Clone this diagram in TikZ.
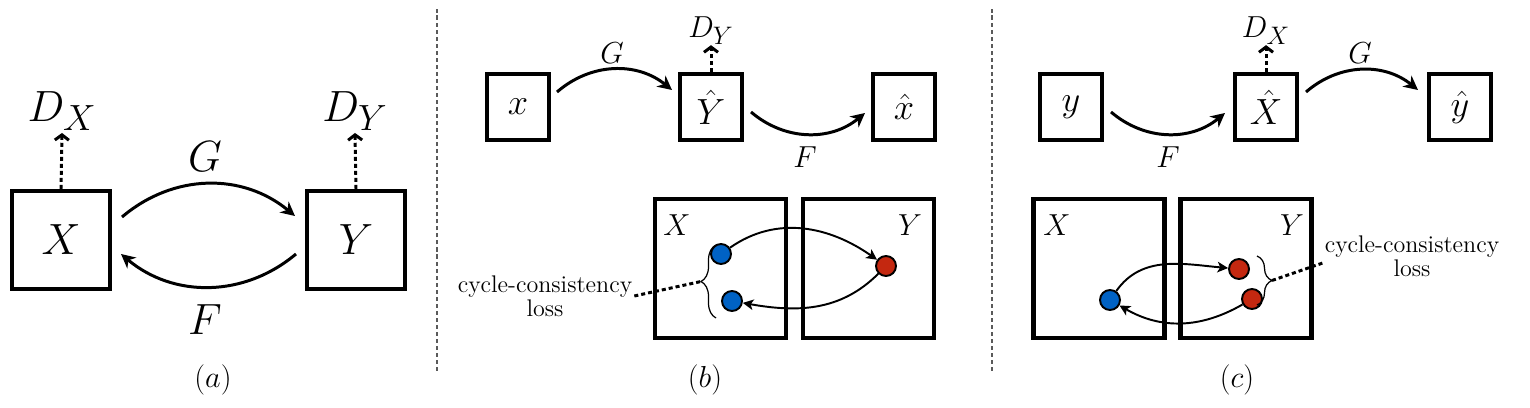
\documentclass[tikz,border=0pt]{standalone}
\usepackage{amsmath}
\usepackage{tikz}
\usetikzlibrary{arrows,arrows.meta,positioning,decorations.pathreplacing}
\definecolor{ptblue}{RGB}{0,98,196}
\definecolor{ptred}{RGB}{196,40,16}
\definecolor{sepgray}{RGB}{90,90,90}
\tikzstyle{bigbox} = [draw, line width=2.3pt, minimum size=1.96cm, inner sep=0pt, font=\fontsize{34}{40}\selectfont]
\tikzstyle{smallbox} = [draw, line width=2.3pt, minimum width=1.24cm, minimum height=1.32cm, inner sep=0pt, font=\fontsize{20}{24}\selectfont]
\tikzstyle{setbox} = [draw, line width=2.3pt, minimum width=2.62cm, minimum height=2.78cm]
\tikzstyle{sample} = [circle, draw, line width=1.1pt, minimum size=0.4cm, inner sep=0pt]
\tikzstyle{maparrow} = [line width=1.7pt, -{Stealth[length=8pt,width=8pt,inset=2.5pt]}]
\tikzstyle{cyclearrow} = [line width=1.1pt, -{Stealth[length=6pt,width=6pt,inset=1.5pt]}]
\tikzstyle{discarrow} = [line width=1.7pt, dash pattern=on 2.3pt off 1.7pt, -{Straight Barb[length=3pt,width=8pt]}]
\tikzstyle{lossline} = [line width=1.7pt, dash pattern=on 2.3pt off 1.7pt]
\tikzstyle{separator} = [sepgray, line width=0.6pt, dash pattern=on 2.3pt off 1.7pt]
\tikzstyle{biglabel} = [inner sep=1pt, font=\fontsize{33}{38}\selectfont]
\tikzstyle{mainlabel} = [inner sep=1pt, font=\fontsize{18}{22}\selectfont]
\tikzstyle{losslabel} = [align=center, inner sep=1pt, font=\fontsize{13.7}{13.7}\selectfont]
\tikzstyle{caption} = [font=\fontsize{17}{20}\selectfont]
\tikzstyle{bracket} = [decorate, decoration={brace, amplitude=0.3cm}, line width=0.7pt]
\newcommand{\bigdisc}[1]{\fontsize{27}{32}\selectfont$D_{\text{\fontsize{22}{22}\selectfont$#1$}}$}
\newcommand{\smalldisc}[1]{\fontsize{17}{20}\selectfont$D_{\text{\fontsize{14}{14}\selectfont$#1$}}$}

\begin{document}
\begin{tikzpicture}
\useasboundingbox (0,0) rectangle (30.6,8.14);

% Separators
\draw[separator] (8.74,0.72) -- (8.74,7.96);
\draw[separator] (19.84,0.72) -- (19.84,7.96);

% (a) Nodes
\node[bigbox] (ax) at (1.22,3.34) {$X$};
\node[bigbox] (ay) at (7.12,3.34) {$Y$};
\node[inner sep=1pt] (adx) at (1.24,5.92) {\bigdisc{X}};
\node[inner sep=1pt] (ady) at (7.10,5.92) {\bigdisc{Y}};
\node[biglabel] (ag) at (4.10,5.00) {$G$};
\node[biglabel] (af) at (4.10,1.74) {$F$};
\node[caption] (acap) at (4.26,0.54) {$(a)$};

% (a) Mappings
\draw[maparrow] ([xshift=0.2cm,yshift=0.46cm]ax.east) to[bend left=40] ([xshift=-0.2cm,yshift=0.48cm]ay.west);
\draw[maparrow] ([xshift=-0.18cm,yshift=-0.28cm]ay.west) to[bend left=40] ([xshift=0.18cm,yshift=-0.28cm]ax.east);
\draw[discarrow] (ax.north) -- (adx.south);
\draw[discarrow] (ay.north) -- (ady.south);

% (b) Nodes
\node[smallbox] (bx) at (10.36,6.00) {$x$};
\node[smallbox] (byh) at (14.22,6.00) {$\hat{Y}$};
\node[smallbox] (bxh) at (18.08,6.00) {$\hat{x}$};
\node[mainlabel] (bg) at (12.24,7.08) {$G$};
\node[mainlabel] (bf) at (16.10,5.00) {$F$};
\node[inner sep=0pt] (bdy) at (14.22,7.52) {\smalldisc{Y}};
\node[setbox] (bsx) at (14.41,2.77) {};
\node[setbox] (bsy) at (17.37,2.77) {};
\node[mainlabel] (bsxl) at (13.54,3.64) {$X$};
\node[mainlabel] (bsyl) at (18.20,3.64) {$Y$};
\node[sample, fill=ptblue] (bb1) at (14.42,3.06) {};
\node[sample, fill=ptblue] (bb2) at (14.64,2.12) {};
\node[sample, fill=ptred] (br) at (17.72,2.82) {};
\node[losslabel] (bloss) at (10.90,2.22) {cycle-consistency\\loss};
\node[caption] (bcap) at (14.10,0.54) {$(b)$};

% (b) Mappings
\draw[maparrow] ([xshift=0.12cm,yshift=0.3cm]bx.east) to[bend left=40] ([xshift=-0.12cm,yshift=0.34cm]byh.west);
\draw[maparrow] ([xshift=0.14cm,yshift=-0.1cm]byh.east) to[bend right=40] ([xshift=-0.12cm,yshift=-0.12cm]bxh.west);
\draw[discarrow] (byh.north) -- (bdy.south);
\draw[cyclearrow] (bb1) to[out=35,in=145] (br);
\draw[cyclearrow] (br) to[out=225,in=-10] (bb2);

% (b) Loss
\coordinate (bbr1) at (14.32,1.78);
\coordinate (bbr2) at (14.32,3.24);
\coordinate (btip) at (14.02,2.51);
\draw[bracket] (bbr1) -- (bbr2);
\draw[lossline] (bloss.east) -- (btip);

% (c) Nodes
\node[smallbox] (cy) at (21.42,6.00) {$y$};
\node[smallbox] (cxh) at (25.32,6.00) {$\hat{X}$};
\node[smallbox] (cyh) at (29.20,6.00) {$\hat{y}$};
\node[mainlabel] (cf) at (23.36,5.00) {$F$};
\node[mainlabel] (cg) at (27.20,7.08) {$G$};
\node[inner sep=0pt] (cdx) at (25.32,7.52) {\smalldisc{X}};
\node[setbox] (csx) at (21.98,2.77) {};
\node[setbox] (csy) at (24.92,2.77) {};
\node[mainlabel] (csxl) at (21.14,3.64) {$X$};
\node[mainlabel] (csyl) at (25.84,3.64) {$Y$};
\node[sample, fill=ptblue] (cb) at (22.20,2.14) {};
\node[sample, fill=ptred] (cr1) at (24.78,2.76) {};
\node[sample, fill=ptred] (cr2) at (25.04,2.16) {};
\node[losslabel] (closs) at (28.24,3.02) {cycle-consistency\\loss};
\node[caption] (ccap) at (24.74,0.54) {$(c)$};

% (c) Mappings
\draw[maparrow] ([xshift=0.14cm,yshift=-0.1cm]cy.east) to[bend right=40] ([xshift=-0.16cm,yshift=-0.12cm]cxh.west);
\draw[maparrow] ([xshift=0.14cm,yshift=0.3cm]cxh.east) to[bend left=40] ([xshift=-0.18cm,yshift=0.34cm]cyh.west);
\draw[discarrow] (cxh.north) -- (cdx.south);
\draw[cyclearrow] (cb) to[out=55,in=175] (cr1);
\draw[cyclearrow] (cr2) to[out=210,in=-30] (cb);

% (c) Loss
\coordinate (cbr1) at (25.14,3.02);
\coordinate (cbr2) at (25.14,2.04);
\coordinate (ctip) at (25.44,2.53);
\draw[bracket] (cbr1) -- (cbr2);
\draw[lossline] (ctip) -- ([yshift=-0.14cm]closs.west);
\end{tikzpicture}
\end{document}
